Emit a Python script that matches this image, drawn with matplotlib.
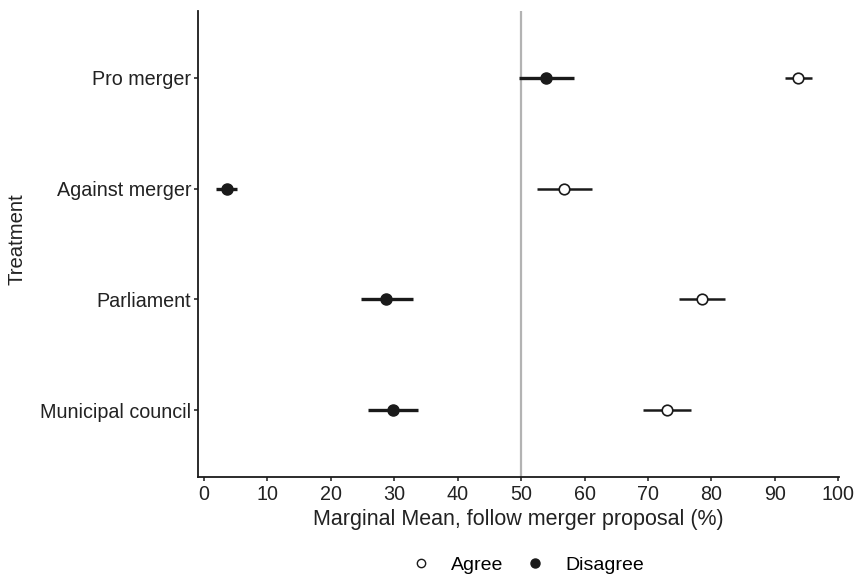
import numpy as np
import matplotlib
matplotlib.use("Agg")
import matplotlib.pyplot as plt
from matplotlib.lines import Line2D

plt.rcParams['font.family'] = ['Liberation Sans', 'DejaVu Sans']

# categories, bottom to top
treatments = ["Municipal council", "Parliament", "Against merger", "Pro merger"]

# Agree series: estimate, lower, upper
agree_est = [73.0, 78.5, 56.8, 93.7]
agree_lo = [69.2, 74.9, 52.5, 91.6]
agree_hi = [76.8, 82.2, 61.2, 95.8]

# Disagree series
disagree_est = [29.8, 28.7, 3.6, 53.9]
disagree_lo = [25.9, 24.8, 1.9, 49.6]
disagree_hi = [33.7, 32.9, 5.2, 58.4]

ink = "#1a1a1a"
W, H = 859, 575

fig = plt.figure(figsize=(W / 100, H / 100), dpi=100)
ax = fig.add_axes([198 / W, 1 - 477 / H, (839 - 198) / W, (477 - 11) / H])

ypos = np.arange(1, len(treatments) + 1)

# reference line at 50
ax.axvline(50, color="#b3b3b3", lw=1.6, zorder=1)

# confidence intervals
ax.hlines(ypos, disagree_lo, disagree_hi, color=ink, lw=2.4, zorder=2)
ax.hlines(ypos, agree_lo, agree_hi, color=ink, lw=1.8, zorder=2)

# points
ax.plot(disagree_est, ypos, "o", ms=8, mfc=ink, mec=ink, mew=1.0, zorder=3)
ax.plot(agree_est, ypos, "o", ms=7.6, mfc="white", mec=ink, mew=1.2, zorder=3)

ax.set_xlim(-0.95, 100.1)
ax.set_ylim(0.4, 4.6)
ax.set_xticks(np.arange(0, 101, 10))
ax.set_yticks(ypos)
ax.set_yticklabels(treatments)

for side in ["top", "right"]:
    ax.spines[side].set_visible(False)
for side in ["left", "bottom"]:
    ax.spines[side].set_linewidth(1.3)
    ax.spines[side].set_color(ink)

ax.tick_params(axis="both", labelsize=14.2, colors=ink, length=3, width=1.1)
ax.tick_params(axis="both", labelcolor="#222222")
ax.tick_params(axis="x", pad=3)
ax.tick_params(axis="y", pad=2)

# axis titles
fig.text(518.5 / W, 1 - 525 / H, "Marginal Mean, follow merger proposal (%)",
         ha="center", va="baseline", fontsize=15.5, color="#222222")
fig.text(17.5 / W, 1 - 239 / H, "Treatment", rotation=90,
         ha="center", va="center", fontsize=14.6, color="#222222")

# legend at bottom
handles = [
    Line2D([], [], ls="none", marker="o", ms=6, mfc="white", mec=ink, mew=1.0),
    Line2D([], [], ls="none", marker="o", ms=6.5, mfc=ink, mec=ink, mew=1.0),
]
fig.legend(handles, ["Agree", "Disagree"], loc="center", bbox_to_anchor=(527.5 / W, 1 - 565 / H),
           ncol=2, frameon=False, fontsize=14, handletextpad=1.04, columnspacing=1.15,
           handlelength=1.0, borderpad=0.0)

fig.savefig("out.png", dpi=100)
